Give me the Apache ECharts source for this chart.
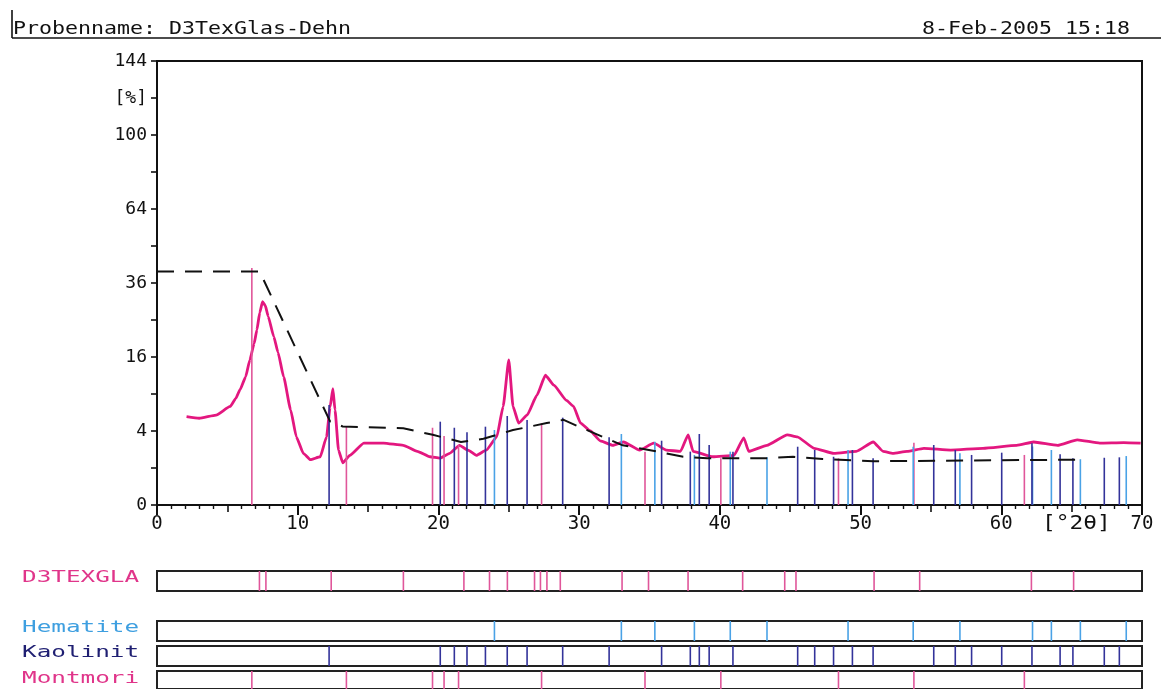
<!DOCTYPE html>
<html><head><meta charset="utf-8">
<script src="https://cdn.jsdelivr.net/npm/echarts@6/dist/echarts.min.js"></script>
<style>html,body{margin:0;padding:0;background:#fff}#c{width:1171px;height:689px}</style>
</head><body><div id="c"></div>
<script>
// ---- data (intensity in %, position in °2θ) ----
const curveDeg = [2.1,3.0,4.2,5.2,5.6,5.9,6.3,6.6,6.9,7.1,7.3,7.5,7.7,7.9,8.3,8.6,9.0,9.5,9.9,10.4,10.9,11.6,12.05,12.3,12.5,12.65,12.9,13.2,13.7,14.7,16.1,17.5,18.5,19.4,20.1,20.8,21.5,22.1,22.7,23.4,24.15,24.6,25.0,25.3,25.7,26.3,27.0,27.6,28.2,29.1,29.6,30.1,30.8,31.5,32.4,33.15,34.3,35.3,36.2,37.2,37.75,38.1,39.5,41.0,41.7,42.05,43.35,44.8,45.5,46.7,48.1,49.7,50.9,51.6,52.3,53.3,54.5,56.4,58.7,61.1,62.3,64.0,65.4,67.0,68.7,69.9];
const curveInt = [5.7,5.5,5.9,7.1,8.3,9.7,12.0,15.4,19.0,22.4,27.0,30.2,29.0,26.0,20.7,17.0,12.0,6.6,3.4,1.95,1.5,1.7,3.4,7.0,9.9,6.6,2.2,1.3,1.8,2.8,2.8,2.6,2.1,1.7,1.6,1.95,2.6,2.2,1.8,2.2,3.4,7.1,15.4,7.1,4.9,5.9,8.8,12.3,10.5,8.0,7.1,4.9,4.0,3.0,2.6,2.9,2.2,2.8,2.2,2.1,3.6,2.1,1.7,1.8,3.3,2.1,2.6,3.6,3.4,2.35,1.95,2.1,2.9,2.1,1.95,2.1,2.35,2.2,2.35,2.6,2.9,2.6,3.1,2.8,2.85,2.8];

const bgDeg = [0,7.3,12.3,13.2,17.5,19.6,21.6,23.2,25.3,27.7,28.9,30.1,33.1,35.5,37.4,39.1,43.4,45.2,47.3,50.9,65.4];
const bgInt = [39.8,39.8,5.1,4.5,4.3,3.6,2.9,3.2,4.1,4.9,5.3,4.4,2.6,2.1,1.7,1.6,1.6,1.7,1.55,1.4,1.5];

const montmoriPos = [6.74,13.46,19.58,20.40,21.43,27.33,34.68,40.07,48.43,53.79,61.64];
const montmoriInt = [41.0,4.48,4.36,3.48,2.63,4.88,2.08,1.59,1.59,2.84,1.83];

const hematitePos = [23.98,33.0,35.38,38.19,40.74,43.35,49.11,53.74,57.06,62.22,63.56,65.62,68.88];
const hematiteInt = [4.11,3.68,2.93,1.83,2.08,1.66,2.21,2.48,1.95,2.5,2.21,1.53,1.75];

const kaolinitPos = [12.23,20.13,21.13,22.03,23.34,24.89,26.3,28.83,32.13,35.86,37.9,38.54,39.24,40.93,45.53,46.74,48.08,49.42,50.89,55.2,56.73,57.89,60.03,62.18,64.18,65.09,67.32,68.39];
const kaolinitInt = [7.3,5.07,4.36,3.86,4.48,5.79,5.28,5.57,3.35,3.02,2.08,3.68,2.63,2.08,2.48,2.21,1.70,2.21,1.59,2.63,2.21,1.83,2.0,2.78,1.88,1.59,1.63,1.66];

const d3texPos = [7.28,7.74,12.38,17.51,21.81,23.63,24.9,26.83,27.25,27.71,28.66,33.05,34.93,37.74,41.62,44.61,45.41,50.96,54.2,62.14,65.14];

const yTickLabels = ['0','','4','','16','','36','','64','','100','[%]','144'];
const xTickLabels = {0:'0',10:'10',20:'20',30:'30',40:'40',50:'50',60:'60',70:'70'};
const panelNames = ['D3TEXGLA','Hematite','Kaolinit','Montmori'];
const headerLeft = 'Probenname: D3TexGlas-Dehn';
const headerRight = '8-Feb-2005 15:18';
const xUnit = '[°2θ]';

// ---- styling ----
const PINK = '#e3177f', STICKPINK = '#e0569a', LBLUE = '#4aa2e6', DBLUE = '#33339a';
const MONO = '"DejaVu Sans Mono", "Liberation Mono", monospace';
const GL = 157, GW = 985;
const sq = v => Math.sqrt(v);

const chart = echarts.init(document.getElementById('c'), null, {renderer: 'canvas'});

function stickMain(color){
  return function(params, api){
    const p0 = api.coord([api.value(0), 0]);
    const p1 = api.coord([api.value(0), api.value(1)]);
    return {type:'line', shape:{x1:p0[0], y1:p0[1], x2:p1[0], y2:p1[1]}, style:{stroke:color, lineWidth:1.6}};
  };
}
function stickPanel(color){
  return function(params, api){
    const p0 = api.coord([api.value(0), 0]);
    const p1 = api.coord([api.value(0), 1]);
    return {type:'line', shape:{x1:p0[0], y1:p0[1], x2:p1[0], y2:p1[1]}, style:{stroke:color, lineWidth:1.6}};
  };
}

const panelTops = [571, 621, 646, 671];
const grids = [{left:GL, top:61, width:GW, height:444, show:true, borderColor:'#111', borderWidth:2, backgroundColor:'transparent'}];
panelTops.forEach(t => grids.push({left:GL, top:t, width:GW, height:20, show:true, borderColor:'#222', borderWidth:2, backgroundColor:'transparent'}));

const xAxes = [
  {gridIndex:0, type:'value', min:0, max:70, interval:10, position:'bottom',
   axisLine:{show:true, onZero:false, lineStyle:{color:'#111', width:2}},
   axisTick:{show:true, length:10, lineStyle:{color:'#111', width:2}},
   axisLabel:{show:true, margin:10, fontFamily:MONO, fontSize:19, color:'#111', formatter:v => xTickLabels[v] !== undefined ? xTickLabels[v] : ''},
   splitLine:{show:false}},
  {gridIndex:0, type:'value', min:0, max:70, interval:5, position:'bottom',
   axisLine:{show:false}, axisLabel:{show:false},
   axisTick:{show:true, length:7, lineStyle:{color:'#111', width:1.6}},
   minorTick:{show:true, splitNumber:5, length:4, lineStyle:{color:'#111', width:1.4}},
   splitLine:{show:false}}
];
const yAxes = [
  {gridIndex:0, type:'value', min:0, max:12, interval:1,
   axisLine:{show:true, onZero:false, lineStyle:{color:'#111', width:2}},
   axisTick:{show:true, length:6, lineStyle:{color:'#111', width:1.6}},
   axisLabel:{show:true, margin:10, fontFamily:MONO, fontSize:18, color:'#111', formatter:v => yTickLabels[Math.round(v)] || ''},
   splitLine:{show:false}}
];
panelTops.forEach((t,i) => {
  xAxes.push({gridIndex:i+1, type:'value', min:0, max:70, show:false, splitLine:{show:false}});
  yAxes.push({gridIndex:i+1, type:'value', min:0, max:1, show:false, splitLine:{show:false}});
});

const series = [
  {type:'line', xAxisIndex:0, yAxisIndex:0, data:curveDeg.map((x,i)=>[x, sq(curveInt[i])]),
   symbol:'none', smooth:0.15, smoothMonotone:'x', lineStyle:{color:PINK, width:2.8}, z:3},
  {type:'custom', xAxisIndex:0, yAxisIndex:0, renderItem:stickMain(STICKPINK), data:montmoriPos.map((x,i)=>[x, sq(montmoriInt[i])]), z:4},
  {type:'custom', xAxisIndex:0, yAxisIndex:0, renderItem:stickMain(LBLUE), data:hematitePos.map((x,i)=>[x, sq(hematiteInt[i])]), z:4},
  {type:'custom', xAxisIndex:0, yAxisIndex:0, renderItem:stickMain(DBLUE), data:kaolinitPos.map((x,i)=>[x, sq(kaolinitInt[i])]), z:4},
  {type:'line', xAxisIndex:0, yAxisIndex:0, data:bgDeg.map((x,i)=>[x, sq(bgInt[i])]),
   symbol:'none', lineStyle:{color:'#111', width:2, type:[17,11]}, z:5},
  {type:'custom', xAxisIndex:2, yAxisIndex:1, renderItem:stickPanel(STICKPINK), data:d3texPos.map(x=>[x,1])},
  {type:'custom', xAxisIndex:3, yAxisIndex:2, renderItem:stickPanel(LBLUE), data:hematitePos.map(x=>[x,1])},
  {type:'custom', xAxisIndex:4, yAxisIndex:3, renderItem:stickPanel(DBLUE), data:kaolinitPos.map(x=>[x,1])},
  {type:'custom', xAxisIndex:5, yAxisIndex:4, renderItem:stickPanel(STICKPINK), data:montmoriPos.map(x=>[x,1])}
];

const panelColors = ['#e0358a', '#3e9fe0', '#1f1f72', '#e0358a'];
const panelLabelY = [578, 628, 653, 679];
const graphics = [
  {type:'line', shape:{x1:12, y1:38, x2:1161, y2:38}, style:{stroke:'#111', lineWidth:1.6}},
  {type:'line', shape:{x1:12, y1:10, x2:12, y2:38}, style:{stroke:'#111', lineWidth:1.6}},
  {type:'text', x:13, y:29, scaleX:1.2, style:{text:headerLeft, font:'18px ' + MONO, fill:'#111', verticalAlign:'middle', align:'left'}},
  {type:'text', x:922, y:29, scaleX:1.2, style:{text:headerRight, font:'18px ' + MONO, fill:'#111', verticalAlign:'middle', align:'left'}},
  {type:'text', x:1042, y:524, scaleX:1.2, style:{text:xUnit, font:'19px ' + MONO, fill:'#111', verticalAlign:'middle', align:'left'}}
];
panelNames.forEach((n,i) => graphics.push({type:'text', x:22, y:panelLabelY[i], scaleX:1.52, style:{text:n, font:'16px ' + MONO, fill:panelColors[i], verticalAlign:'middle', align:'left'}}));

chart.setOption({
  animation:false,
  backgroundColor:'#fff',
  grid:grids, xAxis:xAxes, yAxis:yAxes, series:series, graphic:graphics
});
</script></body></html>
